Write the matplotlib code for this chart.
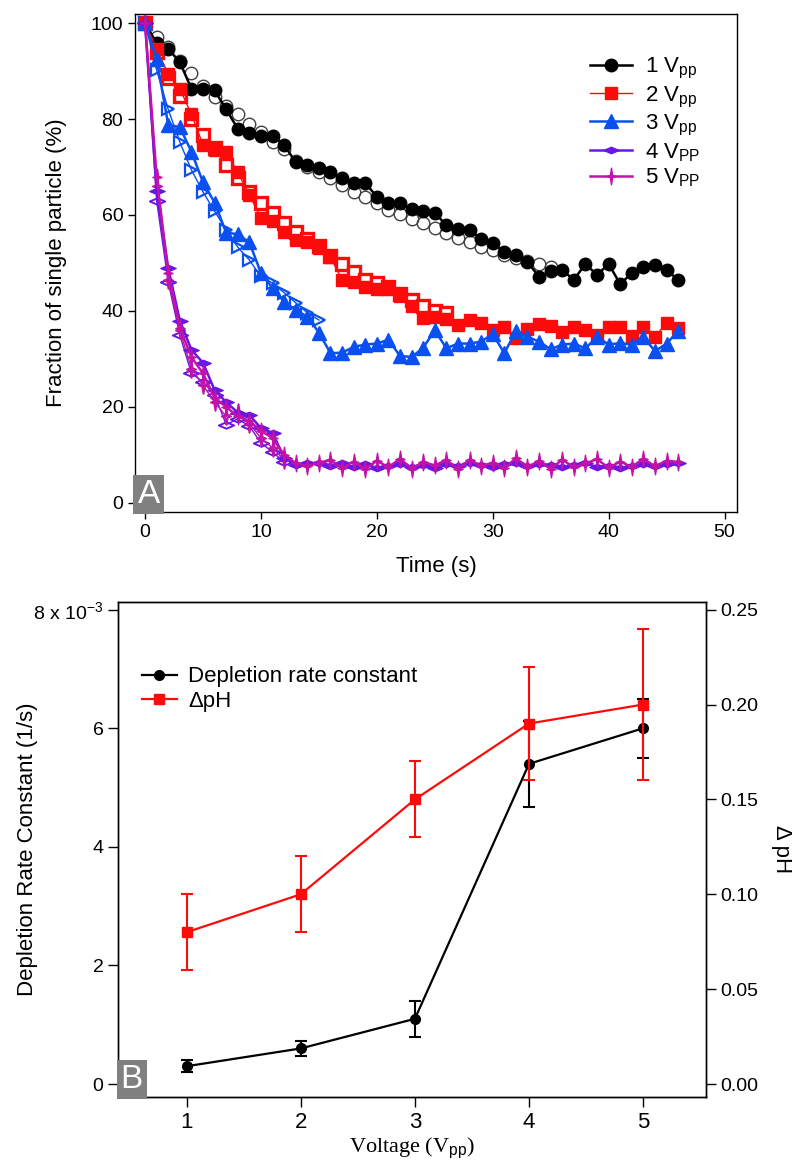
import numpy as np
import matplotlib
matplotlib.use("Agg")
import matplotlib.pyplot as plt
from matplotlib.path import Path
from matplotlib.lines import Line2D

plt.rcParams['font.family'] = ['Liberation Sans', 'DejaVu Sans']
plt.rcParams['mathtext.fontset'] = 'custom'
plt.rcParams['mathtext.rm'] = 'Liberation Sans'
plt.rcParams['mathtext.it'] = 'Liberation Sans'

# ---- panel A: fraction of single particles vs time ----
time = np.arange(47)

v1_run1 = [100, 95.8, 94.6, 91.9, 86.3, 86.3, 86.0, 82, 78, 77, 76.5, 76.5, 74.6, 71,
           70.4, 69.8, 69, 67.7, 66.7, 66.7, 63.8, 62.5, 62.5, 61.3, 60.8, 60.4, 57.9,
           57, 56.9, 55, 54.2, 52.3, 51.7, 50.2, 47.1, 48.3, 48.5, 46.5, 49.8, 47.5,
           49.8, 45.6, 47.9, 49.2, 49.6, 48.5, 46.5]
v1_run2 = [100, 97, 95, 92, 89.5, 86.9, 84.6, 82.7, 81, 79, 77.3, 75.2, 73.8, 71.3, 70,
           69, 67.7, 66.3, 64.8, 63.8, 62.5, 61, 60.2, 59.2, 58.3, 57.3, 56.3, 55.2,
           54.4, 53.3, 52.7, 51.7, 51, 50.5, 49.8, 49.2]

v2_run1 = [100, 94.6, 89.4, 86.3, 81, 74.6, 73.5, 73.1, 68.9, 64.2, 59.4, 58.7, 56.4,
           54.8, 54.4, 53.1, 51.2, 46.5, 46, 45, 44.6, 44.6, 43.1, 41, 38.5, 38.7, 38.3,
           37.1, 38.1, 37.5, 36, 36.7, 34.4, 36.2, 37.3, 36.9, 35.6, 36.7, 36.1, 35,
           36.7, 36.7, 34.8, 36.7, 34.6, 37.5, 36.5]
v2_run2 = [100, 94, 88.5, 84.8, 80, 76.7, 74, 70.5, 67.7, 64.8, 62.6, 60.5, 58.4, 56.4,
           55, 53.5, 51.5, 49.7, 48.1, 46.5, 45.8, 45, 43.5, 42.3, 41, 40, 39.6]

v3_run1 = [100, 92.5, 78.8, 78.3, 73.2, 66.8, 62.6, 56.3, 56, 54.3, 47.9, 44.8, 41.9,
           40.2, 38.8, 35.5, 31.2, 31.3, 32.5, 33, 33.2, 34, 30.6, 30.4, 32.3, 36, 32.2,
           33.2, 33.2, 33.6, 35.2, 31.2, 35.8, 34.6, 33.6, 32, 33, 33.2, 32.2, 34.6, 33,
           33.3, 33, 34.6, 31.6, 33.2, 35.8]
v3_run2 = [100, 90.2, 82, 75.2, 69.4, 64.8, 60.8, 56.9, 53.3, 50.6, 47.2, 45.8, 43.8,
           41.7, 39.6, 38.1]

v4_run1 = [100, 65, 49, 38, 31.9, 29.2, 23.5, 21, 18.8, 18.3, 15.6, 14.6, 9.4, 7.9, 8.3,
           8.3, 7.6, 8.2, 7.4, 8.0, 7.3, 7.6, 8.1, 7.5, 7.8, 7.2, 8.0, 7.7, 8.3, 7.9,
           7.5, 8.1, 8.4, 7.6, 8.0, 7.8, 7.4, 7.9, 8.2, 7.5, 7.7, 7.3, 7.6, 8.0, 7.7,
           8.1, 8.4]
v4_run2 = [100, 63, 46, 35, 27, 25.2, 22.5, 16.3, 17.5, 16, 12.5, 10.6, 8.5]

v5_run1 = [100, 68, 48, 36.5, 30.4, 27, 21.9, 20, 18, 17, 15, 13.5, 10, 8.3, 7.6, 8.4,
           8.9, 7.2, 8.6, 7.0, 8.8, 7.4, 9.2, 7.1, 8.5, 7.8, 8.9, 7.0, 9.0, 7.6, 8.4,
           7.2, 9.3, 7.5, 8.7, 7.1, 9.0, 7.4, 8.2, 9.1, 7.3, 8.6, 7.5, 9.2, 7.6, 8.8, 8.5]
v5_run2 = [100, 66, 46.5, 36, 28, 24.5, 21, 18, 19, 16.5, 13.5, 11.5, 9]

# ---- panel B: rate constant and pH change vs voltage ----
voltage = [1, 2, 3, 4, 5]
rate_const = [0.3, 0.6, 1.1, 5.4, 6.0]          # x 10^-3 1/s
rate_err = [0.1, 0.12, 0.3, 0.72, 0.5]
delta_ph = [0.08, 0.10, 0.15, 0.19, 0.20]
delta_ph_err = [0.02, 0.02, 0.02, 0.03, 0.04]

black = '#000000'
red = '#ff0a0a'
blue = '#0a50f0'
purple = '#6a16e6'
magenta = '#c212a8'

# flat diamond and tall four-point star markers
flat_diamond = Path([(-1, 0), (0, 0.42), (1, 0), (0, -0.42), (-1, 0)],
                    [Path.MOVETO, Path.LINETO, Path.LINETO, Path.LINETO, Path.CLOSEPOLY])
star4 = Path([(0, 1), (0.14, 0.14), (0.55, 0), (0.14, -0.14), (0, -1),
              (-0.14, -0.14), (-0.55, 0), (-0.14, 0.14), (0, 1)],
             [Path.MOVETO] + [Path.LINETO] * 7 + [Path.CLOSEPOLY])

fig = plt.figure(figsize=(8.04, 11.63), dpi=100)

ax = fig.add_axes([0.168, 0.5598, 0.749, 0.4282])

# second runs, open symbols
ax.plot(time[:len(v1_run2)], v1_run2, ls='none', marker='o', ms=9, mfc='none',
        mec='#404040', mew=1.0, zorder=2)
ax.plot(time[:len(v2_run2)], v2_run2, ls='none', marker='s', ms=8.5, mfc='white',
        mec=red, mew=2.4, zorder=2)
ax.plot(time[:len(v3_run2)], v3_run2, color=blue, lw=1.0, marker='>', ms=9,
        mfc='none', mec=blue, mew=1.6, zorder=2)
ax.plot(time[:len(v4_run2)], v4_run2, color=purple, lw=1.0, marker=flat_diamond, ms=11,
        mfc='none', mec=purple, mew=1.4, zorder=2)
ax.plot(time[:len(v5_run2)], v5_run2, color=magenta, lw=1.0, marker=star4, ms=12,
        mfc='none', mec=magenta, mew=1.4, zorder=2)

# first runs, filled symbols
ax.plot(time, v1_run1, color=black, lw=1.8, marker='o', ms=9, label='1 V$_{\\mathrm{pp}}$', zorder=3)
ax.plot(time, v2_run1, color=red, lw=1.0, marker='s', ms=8.5, label='2 V$_{\\mathrm{pp}}$', zorder=3)
ax.plot(time, v3_run1, color=blue, lw=1.8, marker='^', ms=10, label='3 V$_{\\mathrm{pp}}$', zorder=4)
ax.plot(time, v4_run1, color=purple, lw=1.8, marker=flat_diamond, ms=11,
        label='4 V$_{\\mathrm{PP}}$', zorder=4)
ax.plot(time, v5_run1, color=magenta, lw=1.8, marker=star4, ms=12,
        label='5 V$_{\\mathrm{PP}}$', zorder=5)

ax.set_xlim(-0.86, 51.1)
ax.set_ylim(-1.9, 101.9)
ax.set_xticks([0, 10, 20, 30, 40, 50])
ax.set_yticks([0, 20, 40, 60, 80, 100])
ax.tick_params(direction='out', length=5, width=1, labelsize=14, top=False, right=False)
ax.set_xlabel('Time (s)', fontsize=16)
ax.set_ylabel('Fraction of single particle (%)', fontsize=16)
ax.xaxis.set_label_coords(0.5, -0.088)
ax.yaxis.set_label_coords(-0.113, 0.5)
for s in ax.spines.values():
    s.set_linewidth(1.0)
ax.legend(loc='upper left', bbox_to_anchor=(0.755, 0.915), frameon=False,
          fontsize=16, handlelength=1.9, handletextpad=0.6, labelspacing=0.14,
          borderpad=0, borderaxespad=0)
ax.text(0.004, 0.004, 'A', transform=ax.transAxes, fontsize=24, color='white',
        ha='left', va='bottom',
        bbox=dict(boxstyle='square,pad=0.12', fc='#808080', ec='none'), zorder=6)

# ---- panel B ----
bx = fig.add_axes([0.147, 0.0567, 0.731, 0.4257])
bx_r = bx.twinx()

bx.errorbar(voltage, rate_const, yerr=rate_err, color=black, lw=1.6, marker='o',
            ms=7, capsize=4.5, capthick=1.5, elinewidth=1.5, zorder=3)
bx_r.errorbar(voltage, delta_ph, yerr=delta_ph_err, color=red, lw=1.6, marker='s',
              ms=7, capsize=4.5, capthick=1.5, elinewidth=1.5, zorder=3)

bx.set_xlim(0.4, 5.55)
bx.set_ylim(-0.22, 8.13)
bx_r.set_ylim(-0.22 * 0.25 / 8, 8.13 * 0.25 / 8)
bx.set_xticks(voltage)
bx.set_yticks([0, 2, 4, 6, 8])
bx.set_yticklabels(['0', '2', '4', '6', '8 x 10$^{\\mathrm{-3}}$'])
bx_r.set_yticks([0.0, 0.05, 0.10, 0.15, 0.20, 0.25])
bx_r.set_yticklabels(['0.00', '0.05', '0.10', '0.15', '0.20', '0.25'])
bx.tick_params(direction='out', length=7, width=1, labelsize=14)
bx_r.tick_params(direction='out', length=7, width=1, labelsize=14)
for lab in bx.get_xticklabels():
    lab.set_family(['Liberation Sans Narrow', 'Liberation Sans'])
    lab.set_fontsize(16)
bx.set_ylabel('Depletion Rate Constant (1/s)', fontsize=16)
bx.yaxis.set_label_coords(-0.136, 0.5)
bx_r.set_ylabel('Δ pH', fontsize=16, rotation=270, labelpad=24)
bx.set_xlabel('Voltage (V$_{\\mathrm{pp}}$)', fontsize=16,
              family=['Liberation Serif', 'DejaVu Serif'])
bx.xaxis.set_label_coords(0.5, -0.078)
for s in list(bx.spines.values()) + list(bx_r.spines.values()):
    s.set_linewidth(1.0)
legend_handles = [Line2D([], [], color=black, lw=1.6, marker='o', ms=7),
                  Line2D([], [], color=red, lw=1.6, marker='s', ms=7)]
bx.legend(legend_handles, ['Depletion rate constant', 'ΔpH'], loc='upper left',
          bbox_to_anchor=(0.04, 0.87), frameon=False, fontsize=16,
          handlelength=1.6, handletextpad=0.5, labelspacing=0.15,
          borderpad=0, borderaxespad=0)
bx_r.text(0.004, 0.004, 'B', transform=bx.transAxes, fontsize=24, color='white',
          ha='left', va='bottom',
          bbox=dict(boxstyle='square,pad=0.12', fc='#808080', ec='none'), zorder=6)

fig.savefig('out.png', dpi=100)
